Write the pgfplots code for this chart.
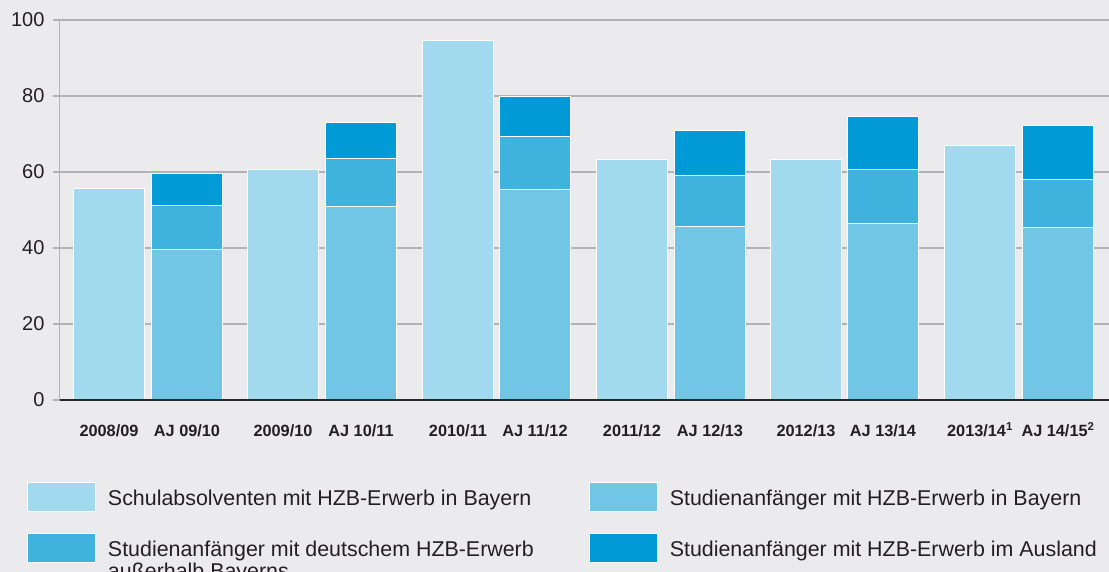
\documentclass[border=0pt]{standalone}
\usepackage{pgfplots}
\pgfplotsset{compat=1.18}
\usepackage{pgfplotstable}
\usepackage{fontspec}
\setmainfont{Liberation Sans}
\definecolor{bg}{HTML}{EBEBED}
\definecolor{cSchul}{HTML}{A1DAEE}
\definecolor{cBay}{HTML}{71C5E5}
\definecolor{cDeu}{HTML}{40B2DE}
\definecolor{cAus}{HTML}{009BD6}
\definecolor{txt}{HTML}{231F20}
\definecolor{gridc}{HTML}{B2B2B4}

\pgfplotstableread{
x y
109 55.7
283 60.7
458 94.5
632 63.2
806 63.4
980 67.1
}\schul

\pgfplotstableread{
x bay deu aus
187 39.6 11.7 8.3
361 51.0 12.5 9.4
535 55.3 14.1 10.5
710 45.7 13.3 11.8
883 46.4 14.2 14.0
1058 45.5 12.5 14.2
}\stud

\pgfplotsset{boxlegend/.style={legend image code/.code={\path[##1] (0pt,-6.5pt) rectangle (68pt,22.5pt);}}}

\begin{document}
\begin{tikzpicture}
\fill[bg] (0,0) rectangle (1109pt,572pt);
\useasboundingbox (0,0) rectangle (1109pt,572pt);
\begin{axis}[
  at={(60pt,172pt)}, anchor=south west,
  scale only axis, width=1049pt, height=380pt,
  xmin=60, xmax=1109, ymin=0, ymax=100,
  axis x line=bottom, axis y line=left, axis line style={-},
  x axis line style={draw=none},
  y axis line style={gridc, line width=1pt},
  ytick={0,20,...,100},
  xtick={109,187,283,361,458,535,632,710,806,883,980,1058},
  xticklabels={2008/09, AJ 09/10, 2009/10, AJ 10/11, 2010/11, AJ 11/12, 2011/12, AJ 12/13, 2012/13, AJ 13/14, 2013/14\textsuperscript{1}, AJ 14/15\textsuperscript{2}},
  xtick style={draw=none},
  ytick style={gridc, line width=1.5pt},
  tick align=outside, major tick length=7pt,
  ymajorgrids, grid style={gridc, line width=1.5pt},
  yticklabel style={font=\fontsize{20}{24}\selectfont, text=txt, xshift=-5pt},
  xticklabel style={font=\bfseries\fontsize{16.3}{19}\selectfont, text=txt, text height=15pt, text depth=3pt, yshift=-11pt},
  /pgf/number format/assume math mode=true,
  ybar, bar width=71, bar shift=0pt,
  legend columns=2,
  legend style={at={(axis cs:27,-21.58)}, anchor=north west, draw=none, fill=none,
    inner sep=0pt, outer sep=0pt, font=\fontsize{21.4}{22}\selectfont, text=txt,
    row sep=21pt, cells={anchor=base west}, nodes={inner sep=0pt, anchor=base west},
    /tikz/every odd column/.append style={column sep=12pt},
    /tikz/column 2/.style={column sep=55pt}},
]
\addplot[fill=cSchul, draw=white, line width=1pt, forget plot] table[x=x,y=y]{\schul};
\addlegendimage{boxlegend, fill=cSchul, draw=white, line width=1pt}
\addlegendimage{boxlegend, fill=cBay, draw=white, line width=1pt}
\addlegendimage{boxlegend, fill=cDeu, draw=white, line width=1pt}
\addlegendimage{boxlegend, fill=cAus, draw=white, line width=1pt}
\legend{Schulabsolventen mit HZB-Erwerb in Bayern, Studienanfänger mit HZB-Erwerb in Bayern, {\begin{tabular}[t]{@{}l@{}}Studienanfänger mit deutschem HZB-Erwerb\\außerhalb Bayerns\end{tabular}}, Studienanfänger mit HZB-Erwerb im Ausland}
\end{axis}
\begin{axis}[
  at={(60pt,172pt)}, anchor=south west,
  scale only axis, width=1049pt, height=380pt,
  xmin=60, xmax=1109, ymin=0, ymax=100,
  axis x line=bottom, axis y line=none, axis line style={-},
  x axis line style={draw=black!85, line width=2pt},
  xtick=\empty, ytick=\empty,
  axis on top,
  ybar stacked, bar width=71,
]
\addplot[fill=cBay, draw=white, line width=1pt] table[x=x,y=bay]{\stud};
\addplot[fill=cDeu, draw=white, line width=1pt] table[x=x,y=deu]{\stud};
\addplot[fill=cAus, draw=white, line width=1pt] table[x=x,y=aus]{\stud};
\end{axis}
\end{tikzpicture}
\end{document}
